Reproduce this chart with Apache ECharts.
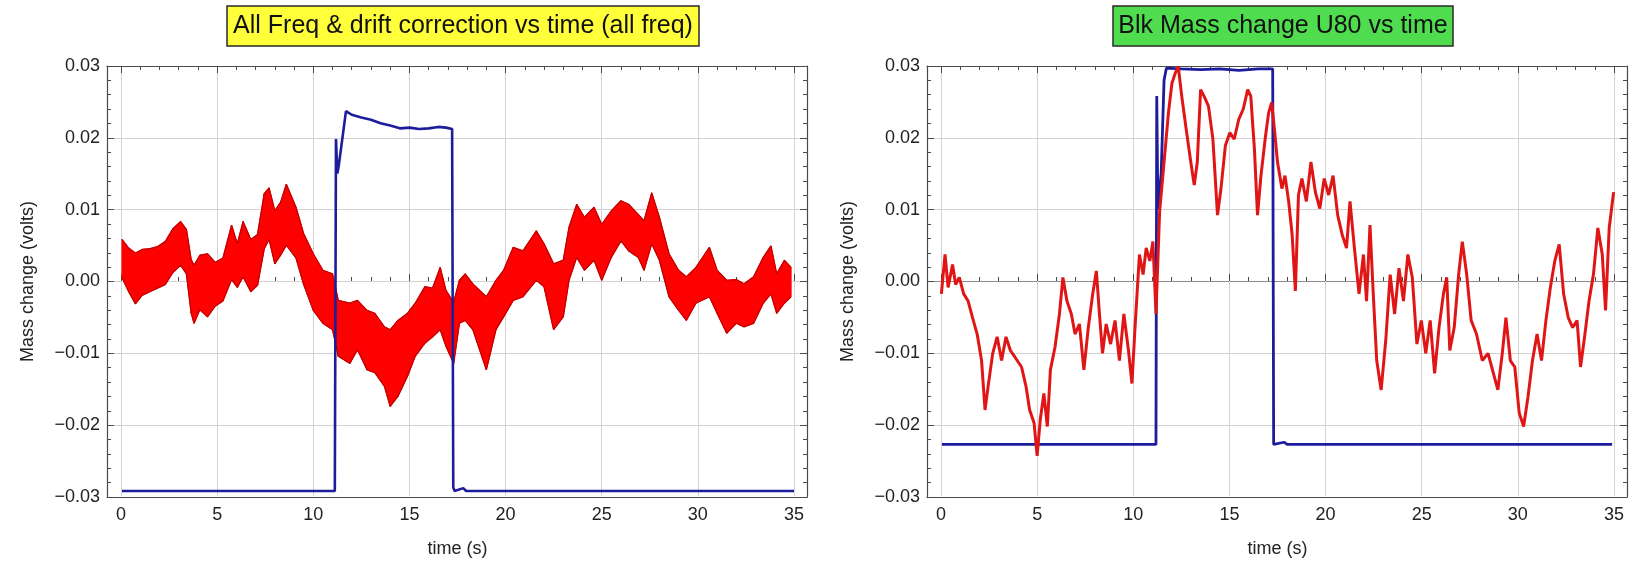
<!DOCTYPE html>
<html>
<head>
<meta charset="utf-8">
<script src="https://cdn.jsdelivr.net/npm/echarts@6/dist/echarts.min.js"></script>
<style>
  html, body { margin: 0; padding: 0; background: #ffffff; }
  #chart { width: 1640px; height: 563px; }
</style>
</head>
<body>
<div id="chart"></div>
<script>
// ---- Left panel: drift-corrected signal (red band: upper / lower envelope, volts)
const leftRedTime = [0.05, 0.4, 0.75, 1.1, 1.5, 1.9, 2.3, 2.7, 3.1, 3.4, 3.65, 3.8, 4.1, 4.5, 4.9, 5.3, 5.75, 6.05, 6.35, 6.75,
  7.1, 7.45, 7.7, 8.0, 8.3, 8.6, 9.1, 9.5, 10.0, 10.5, 11.0, 11.3, 11.9, 12.3, 12.8, 13.2, 13.7, 14.0, 14.4, 14.9,
  15.3, 15.8, 16.2, 16.6, 16.9, 17.3, 17.6, 17.9, 18.3, 19.0, 19.5, 19.9, 20.4, 20.9, 21.6, 22.0, 22.5, 23.0, 23.3, 23.7,
  24.1, 24.6, 25.0, 25.5, 26.0, 26.4, 26.9, 27.2, 27.6, 28.0, 28.5, 29.0, 29.4, 29.9, 30.6, 31.0, 31.5, 32.0, 32.4, 32.9,
  33.4, 33.8, 34.1, 34.5, 34.85];
const leftRedUpper = [0.0058, 0.0046, 0.0039, 0.0044, 0.0045, 0.0048, 0.0055, 0.0073, 0.0083, 0.0072, 0.0030, 0.0022, 0.0036, 0.0038, 0.0026, 0.0032, 0.0078, 0.0052, 0.0083, 0.0058,
  0.0065, 0.0122, 0.0130, 0.0098, 0.0110, 0.0135, 0.0103, 0.0066, 0.0038, 0.0015, 0.0010, -0.0027, -0.0031, -0.0027, -0.0041, -0.0045, -0.0064, -0.0068, -0.0055, -0.0045,
  -0.0031, -0.0008, -0.0010, 0.0019, -0.0013, -0.0030, 0.0001, 0.0010, -0.0004, -0.0022, 0.0001, 0.0015, 0.0047, 0.0042, 0.0070, 0.0052, 0.0024, 0.0029, 0.0075, 0.0107,
  0.0089, 0.0103, 0.0079, 0.0098, 0.0112, 0.0107, 0.0093, 0.0084, 0.0123, 0.0089, 0.0038, 0.0015, 0.0006, 0.0019, 0.0047, 0.0015, 0.0001, 0.0002, -0.0004, 0.0006,
  0.0033, 0.0049, 0.0010, 0.0029, 0.0019];
const leftRedLower = [0.0005, -0.0015, -0.0032, -0.0020, -0.0015, -0.0010, -0.0005, 0.0012, 0.0022, 0.0010, -0.0045, -0.0059, -0.0040, -0.0050, -0.0035, -0.0028, 0.0002, -0.0009, 0.0006, -0.0015,
  -0.0006, 0.0045, 0.0058, 0.0024, 0.0036, 0.0050, 0.0032, -0.0005, -0.0041, -0.0059, -0.0068, -0.0105, -0.0115, -0.0096, -0.0124, -0.0128, -0.0147, -0.0175, -0.0161, -0.0133,
  -0.0105, -0.0087, -0.0078, -0.0068, -0.0091, -0.0115, -0.0059, -0.0055, -0.0068, -0.0124, -0.0068, -0.0050, -0.0027, -0.0022, 0.0001, -0.0008, -0.0068, -0.0050, 0.0001, 0.0033,
  0.0015, 0.0029, 0.0001, 0.0033, 0.0056, 0.0042, 0.0033, 0.0015, 0.0052, 0.0029, -0.0022, -0.0041, -0.0055, -0.0031, -0.0022, -0.0045, -0.0073, -0.0059, -0.0064, -0.0059,
  -0.0031, -0.0018, -0.0045, -0.0031, -0.0022];

// ---- Left panel: frequency step (blue)
const leftBlueTime = [0.05, 11.12, 11.18, 11.25, 11.32, 11.7, 12.0, 12.5, 13.0, 13.5, 14.0, 14.5, 15.0, 15.5, 16.0, 16.5, 16.9, 17.22, 17.28, 17.35, 17.8, 17.95, 35.0];
const leftBlueValue = [-0.0293, -0.0293, 0.0198, 0.0150, 0.0160, 0.0237, 0.0232, 0.0228, 0.0225, 0.0220, 0.0217, 0.0213, 0.0214, 0.0212, 0.0213, 0.0215, 0.0214, 0.0212, -0.0288, -0.0293, -0.0289, -0.0293, -0.0293];

// ---- Right panel: bulk mass change (red)
const rightRedTime = [0.02, 0.21, 0.37, 0.60, 0.76, 0.95, 1.18, 1.41, 1.64, 1.88, 2.11, 2.29, 2.45, 2.69, 2.92, 3.15, 3.38, 3.61, 3.84, 4.19,
  4.42, 4.61, 4.84, 5.00, 5.16, 5.35, 5.53, 5.69, 5.93, 6.16, 6.34, 6.55, 6.78, 6.97, 7.20, 7.43, 7.66, 7.89, 8.08, 8.24,
  8.40, 8.59, 8.82, 9.05, 9.28, 9.51, 9.75, 9.93, 10.09, 10.32, 10.51, 10.67, 10.86, 11.02, 11.18, 11.37, 11.60, 11.83, 12.01, 12.18,
  12.34, 12.52, 12.75, 12.99, 13.17, 13.33, 13.50, 13.68, 13.91, 14.14, 14.38, 14.56, 14.79, 15.02, 15.25, 15.49, 15.72, 15.95, 16.11, 16.30,
  16.46, 16.64, 16.88, 17.04, 17.20, 17.34, 17.50, 17.73, 17.89, 18.08, 18.26, 18.43, 18.59, 18.77, 19.00, 19.24, 19.47, 19.70, 19.93, 20.16,
  20.39, 20.63, 20.86, 21.09, 21.27, 21.50, 21.74, 21.97, 22.13, 22.31, 22.48, 22.66, 22.89, 23.13, 23.36, 23.59, 23.82, 24.05, 24.28, 24.51,
  24.75, 24.98, 25.21, 25.44, 25.67, 25.90, 26.13, 26.30, 26.46, 26.69, 26.92, 27.11, 27.34, 27.57, 27.85, 28.15, 28.45, 28.73, 28.96, 29.19,
  29.38, 29.61, 29.84, 30.07, 30.30, 30.53, 30.76, 31.00, 31.23, 31.46, 31.69, 31.92, 32.15, 32.38, 32.62, 32.85, 33.08, 33.26, 33.47, 33.70,
  33.93, 34.16, 34.39, 34.56, 34.75, 34.98];
const rightRedValue = [-0.0018, 0.0037, -0.0009, 0.0023, -0.0005, 0.0005, -0.0018, -0.0028, -0.0051, -0.0074, -0.0111, -0.0180, -0.0147, -0.0101, -0.0078, -0.0111, -0.0078, -0.0097, -0.0106, -0.0120,
  -0.0147, -0.0180, -0.0198, -0.0244, -0.0194, -0.0157, -0.0203, -0.0124, -0.0092, -0.0046, 0.0005, -0.0028, -0.0046, -0.0074, -0.0060, -0.0124, -0.0065, -0.0018, 0.0014, -0.0046,
  -0.0101, -0.0060, -0.0088, -0.0055, -0.0111, -0.0046, -0.0097, -0.0143, -0.0065, 0.0037, 0.0009, 0.0046, 0.0028, 0.0055, -0.0046, 0.0097, 0.0166, 0.0235, 0.0276, 0.0290,
  0.0299, 0.0258, 0.0212, 0.0166, 0.0134, 0.0166, 0.0267, 0.0258, 0.0244, 0.0198, 0.0092, 0.0129, 0.0189, 0.0207, 0.0198, 0.0226, 0.0240, 0.0267, 0.0258, 0.0184,
  0.0092, 0.0147, 0.0203, 0.0235, 0.0249, 0.0212, 0.0166, 0.0129, 0.0147, 0.0111, 0.0065, -0.0014, 0.0120, 0.0143, 0.0111, 0.0166, 0.0124, 0.0101, 0.0143, 0.0120,
  0.0147, 0.0092, 0.0065, 0.0046, 0.0111, 0.0046, -0.0018, 0.0037, -0.0028, 0.0078, -0.0018, -0.0111, -0.0152, -0.0083, 0.0009, -0.0046, 0.0018, -0.0028, 0.0037, 0.0005,
  -0.0088, -0.0055, -0.0101, -0.0055, -0.0129, -0.0065, -0.0018, 0.0005, -0.0097, -0.0065, 0.0009, 0.0055, 0.0009, -0.0055, -0.0074, -0.0111, -0.0101, -0.0129, -0.0152, -0.0101,
  -0.0051, -0.0111, -0.0120, -0.0184, -0.0203, -0.0161, -0.0111, -0.0074, -0.0111, -0.0055, -0.0009, 0.0028, 0.0051, -0.0018, -0.0051, -0.0065, -0.0055, -0.0120, -0.0078, -0.0028,
  0.0009, 0.0074, 0.0037, -0.0041, 0.0074, 0.0124];

// ---- Right panel: frequency step (blue)
const rightBlueTime = [0.05, 11.18, 11.22, 11.28, 11.45, 11.6, 11.72, 12.5, 13.5, 14.5, 15.5, 16.5, 17.25, 17.3, 17.85, 18.0, 34.9];
const rightBlueValue = [-0.0228, -0.0228, 0.0258, 0.0100, 0.0150, 0.0280, 0.0297, 0.0296, 0.0295, 0.0296, 0.0294, 0.0296, 0.0296, -0.0228, -0.0225, -0.0228, -0.0228];

// ---- Axis settings and labels
const xMin = 0, xMax = 35, xStep = 5;
const yMin = -0.03, yMax = 0.03, yStep = 0.01;
const panelTitles = ['All Freq & drift correction vs time (all freq)', 'Blk Mass change U80 vs time'];
const titleColors = ['#ffff3a', '#4fdd4f'];
const xName = 'time (s)';
const yName = 'Mass change (volts)';

// ---- Layout (pixels)
const frameLefts = [107, 927];
const frameWidth = 700;
const dataInset = 14;      // t = 0 sits this far inside the frame
const dataWidth = 673;     // span of t = 0 .. 35
const plotTop = 66;
const plotHeight = 431;

const FONT = '"Liberation Sans", Arial, Helvetica, sans-serif';
const GRID_C = '#d2d2d2';
const FRAME_C = '#4a4a4a';

function fmtY(v) {
  const r = Math.round(v * 100);
  return (r < 0 ? '\u2212' : '') + (Math.abs(r) / 100).toFixed(2);
}

const grids = [], xAxes = [], yAxes = [], series = [], titles = [];

function addPanel(p, zeroLineDark) {
  const fL = frameLefts[p];
  const gFrame = grids.length;
  grids.push({ left: fL, top: plotTop, width: frameWidth, height: plotHeight, show: false });
  const gData = grids.length;
  grids.push({ left: fL + dataInset, top: plotTop, width: dataWidth, height: plotHeight, show: false });

  const frameLine = { show: true, onZero: false, lineStyle: { color: FRAME_C, width: 1.2 } };

  // frame grid: hidden x scale that only draws the top / bottom frame edges
  xAxes.push({ gridIndex: gFrame, type: 'value', min: 0, max: 1, position: 'bottom',
    axisLine: frameLine, axisTick: { show: false }, axisLabel: { show: false }, splitLine: { show: false } });
  xAxes.push({ gridIndex: gFrame, type: 'value', min: 0, max: 1, position: 'top',
    axisLine: frameLine, axisTick: { show: false }, axisLabel: { show: false }, splitLine: { show: false } });

  const ySplitColors = [];
  const nY = Math.round((yMax - yMin) / yStep);
  for (let i = 0; i <= nY; i++) {
    const v = yMin + i * yStep;
    if (i === 0 || i === nY) ySplitColors.push('rgba(0,0,0,0)');
    else if (zeroLineDark && Math.abs(v) < 1e-9) ySplitColors.push('#8c8c8c');
    else ySplitColors.push(GRID_C);
  }

  const yTick = { show: true, inside: true, length: 7, lineStyle: { color: FRAME_C, width: 1 } };
  const yMinor = { show: true, splitNumber: 5, length: 4, lineStyle: { color: FRAME_C, width: 1 } };

  yAxes.push({ gridIndex: gFrame, type: 'value', min: yMin, max: yMax, interval: yStep, position: 'left',
    axisLine: frameLine, axisTick: yTick, minorTick: yMinor,
    axisLabel: { show: true, formatter: fmtY, fontFamily: FONT, fontSize: 18, color: '#222', margin: 7 },
    splitLine: { show: true, lineStyle: { color: ySplitColors, width: 1 } },
    name: yName, nameLocation: 'middle', nameGap: 70, nameRotate: 90,
    nameTextStyle: { fontFamily: FONT, fontSize: 18, color: '#222' } });
  yAxes.push({ gridIndex: gFrame, type: 'value', min: yMin, max: yMax, interval: yStep, position: 'right',
    axisLine: frameLine, axisTick: yTick, minorTick: yMinor, axisLabel: { show: false }, splitLine: { show: false } });

  // data grid: time axis with ticks / labels / vertical grid lines
  const xTick = { show: true, inside: true, length: 7, lineStyle: { color: FRAME_C, width: 1 } };
  const xMinor = { show: true, splitNumber: 5, length: 4, lineStyle: { color: FRAME_C, width: 1 } };
  const dxB = xAxes.length;
  xAxes.push({ gridIndex: gData, type: 'value', min: xMin, max: xMax, interval: xStep, position: 'bottom',
    axisLine: { show: false }, axisTick: xTick, minorTick: xMinor,
    axisLabel: { show: true, fontFamily: FONT, fontSize: 18, color: '#222', margin: 10 },
    splitLine: { show: true, lineStyle: { color: GRID_C, width: 1 } },
    name: xName, nameLocation: 'middle', nameGap: 44,
    nameTextStyle: { fontFamily: FONT, fontSize: 18, color: '#222' } });
  xAxes.push({ gridIndex: gData, type: 'value', min: xMin, max: xMax, interval: xStep, position: 'top',
    axisLine: { show: false }, axisTick: xTick, minorTick: xMinor, axisLabel: { show: false }, splitLine: { show: false } });
  const dyL = yAxes.length;
  yAxes.push({ gridIndex: gData, type: 'value', min: yMin, max: yMax, show: false });

  titles.push({
    text: panelTitles[p], left: fL + frameWidth / 2, top: 6, textAlign: 'center',
    backgroundColor: titleColors[p], borderColor: '#2a2a2a', borderWidth: 1.5,
    padding: [5, 6, 5, 6],
    textStyle: { fontFamily: FONT, fontSize: 25, fontWeight: 'normal', color: '#111', lineHeight: 30 }
  });

  return { x: dxB, y: dyL };
}

const L = addPanel(0, false);
const R = addPanel(1, true);

const zip = (a, b) => a.map((t, i) => [t, b[i]]);

// left: red noise band, filled between the upper and lower envelopes
series.push({
  type: 'custom', xAxisIndex: L.x, yAxisIndex: L.y, silent: true, z: 2,
  data: leftRedTime.map((t, i) => [t, leftRedUpper[i], leftRedLower[i]]),
  encode: { x: 0, y: [1, 2] },
  renderItem: function (params, api) {
    const i = params.dataIndex;
    if (i >= leftRedTime.length - 1) return null;
    const pts = [
      api.coord([leftRedTime[i], leftRedUpper[i]]),
      api.coord([leftRedTime[i + 1], leftRedUpper[i + 1]]),
      api.coord([leftRedTime[i + 1], leftRedLower[i + 1]]),
      api.coord([leftRedTime[i], leftRedLower[i]])
    ];
    return { type: 'polygon', shape: { points: pts }, style: { fill: '#ff0000', stroke: '#ff0000', lineWidth: 1 } };
  }
});
series.push({
  type: 'line', xAxisIndex: L.x, yAxisIndex: L.y, data: zip(leftRedTime, leftRedUpper),
  showSymbol: false, silent: true, z: 2, lineStyle: { color: '#c40000', width: 1.3 }
});
series.push({
  type: 'line', xAxisIndex: L.x, yAxisIndex: L.y, data: zip(leftRedTime, leftRedLower),
  showSymbol: false, silent: true, z: 2, lineStyle: { color: '#c40000', width: 1.3 }
});
series.push({
  type: 'line', xAxisIndex: L.x, yAxisIndex: L.y, data: zip(leftBlueTime, leftBlueValue),
  showSymbol: false, silent: true, z: 3, lineStyle: { color: '#1c1c9c', width: 2.6 }
});

// right: blue step below, red trace on top
series.push({
  type: 'line', xAxisIndex: R.x, yAxisIndex: R.y, data: zip(rightBlueTime, rightBlueValue),
  showSymbol: false, silent: true, z: 2, lineStyle: { color: '#1c1c9c', width: 2.8 }
});
series.push({
  type: 'line', xAxisIndex: R.x, yAxisIndex: R.y, data: zip(rightRedTime, rightRedValue),
  showSymbol: false, silent: true, z: 3, lineStyle: { color: '#e01616', width: 3 }
});

const chart = echarts.init(document.getElementById('chart'), null, { renderer: 'canvas' });
chart.setOption({
  animation: false,
  backgroundColor: '#ffffff',
  title: titles,
  grid: grids,
  xAxis: xAxes,
  yAxis: yAxes,
  series: series
});
</script>
</body>
</html>
